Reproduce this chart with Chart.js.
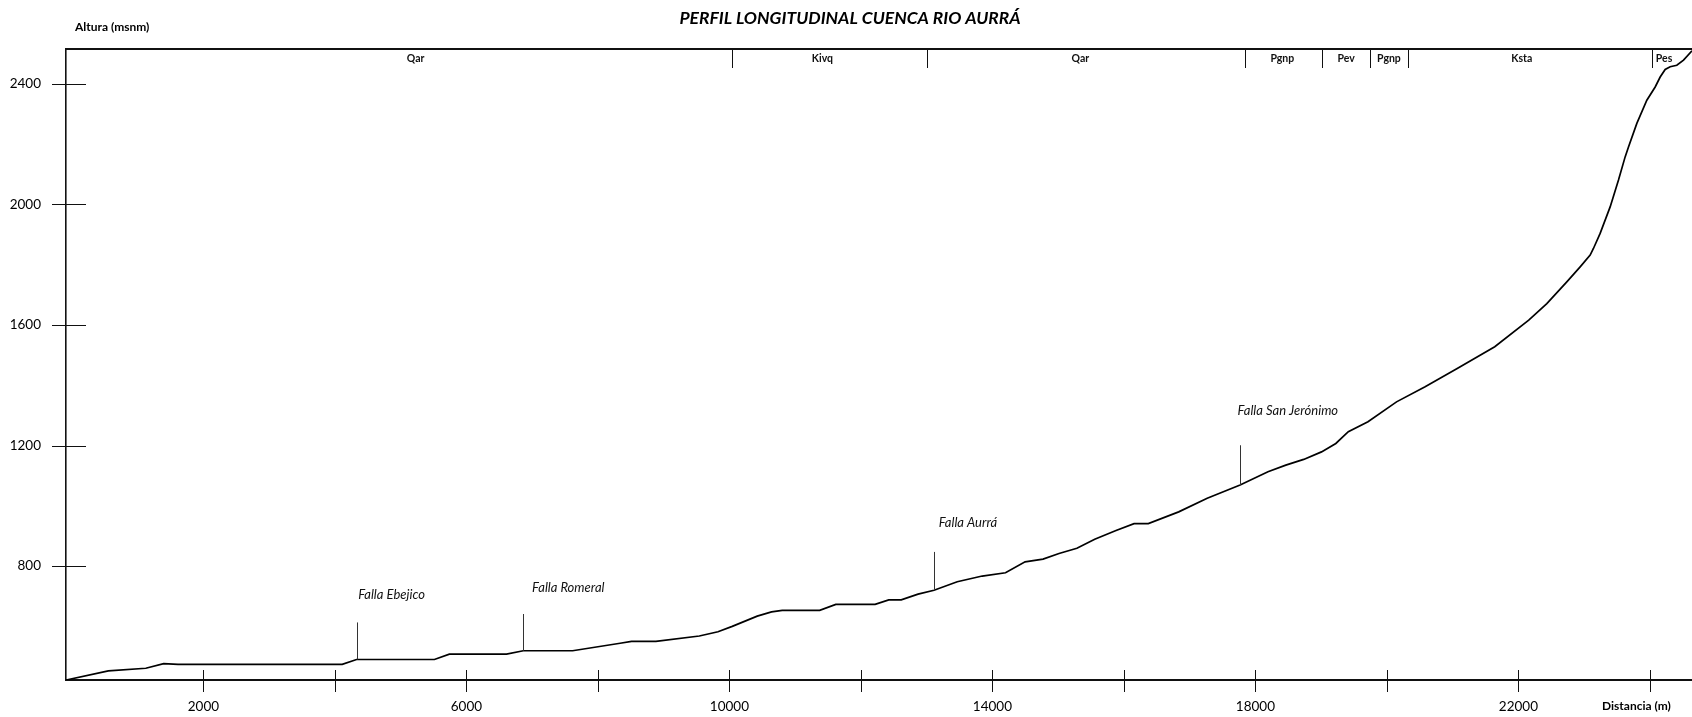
<!DOCTYPE html>
<html>
<head>
<meta charset="utf-8">
<title>Perfil longitudinal cuenca Rio Aurrá</title>
<script src="https://cdn.jsdelivr.net/npm/chart.js@4.4.1/dist/chart.umd.min.js"></script>
<style>
	html, body { margin: 0; padding: 0; background: #fff; }
	#wrap { width: 1692px; height: 717px; }
</style>
</head>
<body>
<div id="wrap"><canvas id="ChartCanvas" width="1692" height="717"></canvas></div>
<script>
// perfil del cauce: distancia (m) y altura (msnm)
const distancia = [-90, 554, 1124, 1396, 1614, 4111, 4329, 5513, 5741, 6610, 6865, 7615, 8338, 8511, 8882,
	9542, 9826, 10043, 10423, 10641, 10803, 11373, 11618, 12216, 12423, 12613, 12869, 13112, 13465, 13845,
	14199, 14497, 14770, 15013, 15285, 15556, 15880, 16154, 16371, 16833, 17267, 17767, 18191, 18462, 18734,
	19005, 19223, 19413, 19712, 20146, 20581, 21069, 21640, 22157, 22432, 22736, 22939, 23091, 23141, 23243,
	23395, 23522, 23623, 23674, 23801, 23953, 24080, 24156, 24232, 24308, 24409, 24511, 24640];
const altura = [422, 452, 461, 476, 474, 474, 490, 490, 508, 508, 519, 519, 544, 550, 550,
	568, 582, 600, 634, 648, 653, 653, 673, 673, 688, 688, 707, 720, 748, 767,
	778, 814, 823, 842, 859, 889, 918, 941, 941, 980, 1025, 1069, 1113, 1135, 1154,
	1179, 1207, 1246, 1279, 1345, 1395, 1456, 1528, 1616, 1671, 1743, 1793, 1832, 1854, 1904,
	1992, 2081, 2158, 2191, 2269, 2346, 2390, 2423, 2448, 2457, 2462, 2479, 2510];

// marcas de los ejes
const marcasX = [2000, 4000, 6000, 8000, 10000, 12000, 14000, 16000, 18000, 20000, 22000, 24000];
const etiquetasX = [2000, 6000, 10000, 14000, 18000, 22000];
const marcasY = [800, 1200, 1600, 2000, 2400];

// unidades geologicas de la franja superior
const unidades = ['Qar', 'Kivq', 'Qar', 'Pgnp', 'Pev', 'Pgnp', 'Ksta', 'Pes'];
const unidadCentro = [5227, 11414, 15337, 18410, 19381, 20031, 22052, 24215];
const limitesUnidad = [10035, 13007, 17837, 19008, 19749, 20318, 24032];

// fallas: posicion, altura del cauce, extremo superior de la marca, texto
const fallas = ['Falla Ebejico', 'Falla Romeral', 'Falla Aurrá', 'Falla San Jerónimo'];
const fallaX = [4329, 6865, 13112, 17767];
const fallaBase = [490, 519, 720, 1069];
const fallaTope = [613, 641, 847, 1201];
const fallaTextoX = [4353, 6999, 13183, 17729];
const fallaTextoY = [704, 728, 944, 1314];

const xMin = -90, xMax = 24640, yMin = 422, yMax = 2516;

const puntos = distancia.map(function (d, i) { return { x: d, y: altura[i] }; });

const decoracion = {
	id: 'decoracion',
	afterDraw: function (chart) {
		const ctx = chart.ctx;
		const a = chart.chartArea;
		const xs = chart.scales.x;
		const ys = chart.scales.y;
		ctx.save();
		ctx.strokeStyle = '#111';
		ctx.fillStyle = '#111';

		// borde superior
		ctx.lineWidth = 2;
		ctx.beginPath();
		ctx.moveTo(a.left, a.top);
		ctx.lineTo(a.right, a.top);
		ctx.stroke();

		// divisiones de unidades
		ctx.lineWidth = 1;
		limitesUnidad.forEach(function (v) {
			const px = Math.round(xs.getPixelForValue(v)) + 0.5;
			ctx.beginPath();
			ctx.moveTo(px, a.top);
			ctx.lineTo(px, a.top + 19);
			ctx.stroke();
		});
		ctx.font = 'bold 10.5px Lato';
		ctx.textAlign = 'center';
		ctx.textBaseline = 'middle';
		unidades.forEach(function (u, i) {
			ctx.fillText(u, xs.getPixelForValue(unidadCentro[i]), a.top + 10);
		});

		// marcas del eje x (cruzan el eje)
		ctx.lineWidth = 1;
		marcasX.forEach(function (v) {
			const px = Math.round(xs.getPixelForValue(v)) + 0.5;
			ctx.beginPath();
			ctx.moveTo(px, a.bottom - 10);
			ctx.lineTo(px, a.bottom + 12);
			ctx.stroke();
		});
		// marcas del eje y
		marcasY.forEach(function (v) {
			const py = Math.round(ys.getPixelForValue(v)) + 0.5;
			ctx.beginPath();
			ctx.moveTo(a.left - 14, py);
			ctx.lineTo(a.left + 20, py);
			ctx.stroke();
		});

		// fallas
		ctx.strokeStyle = '#333';
		ctx.lineWidth = 1;
		ctx.font = 'italic 13px Lato';
		ctx.textAlign = 'left';
		fallas.forEach(function (f, i) {
			const px = Math.round(xs.getPixelForValue(fallaX[i])) + 0.5;
			ctx.beginPath();
			ctx.moveTo(px, ys.getPixelForValue(fallaBase[i]));
			ctx.lineTo(px, ys.getPixelForValue(fallaTope[i]));
			ctx.stroke();
			ctx.fillText(f, xs.getPixelForValue(fallaTextoX[i]), ys.getPixelForValue(fallaTextoY[i]));
		});

		// titulos
		ctx.fillStyle = '#000';
		ctx.font = 'bold italic 17.5px Lato';
		ctx.textAlign = 'center';
		ctx.fillText('PERFIL LONGITUDINAL CUENCA RIO AURRÁ', 850, 18);
		ctx.font = 'bold 12px Lato';
		ctx.textAlign = 'left';
		ctx.fillText('Altura (msnm)', 75, 27);
		ctx.fillText('Distancia (m)', 1602, 706);
		ctx.restore();
	}
};

var ctx = document.getElementById('ChartCanvas').getContext('2d');
var chart = new Chart(ctx, {
	type: 'scatter',
	data: {
		datasets: [{
			label: 'Perfil',
			data: puntos,
			showLine: true,
			borderColor: '#000',
			borderWidth: 1.7,
			pointRadius: 0,
			tension: 0,
			fill: false
		}]
	},
	options: {
		responsive: false,
		animation: false,
		layout: { padding: { top: 49, left: 0, right: 0, bottom: 0 } },
		plugins: {
			legend: { display: false },
			tooltip: { enabled: false },
			title: { display: false }
		},
		scales: {
			x: {
				type: 'linear',
				min: xMin,
				max: xMax,
				afterFit: function (s) { s.height = 37; },
				afterBuildTicks: function (s) {
					s.ticks = etiquetasX.map(function (v) { return { value: v }; });
				},
				border: { display: true, color: '#111', width: 2 },
				grid: { display: false, drawTicks: false },
				ticks: {
					autoSkip: false,
					maxRotation: 0,
					padding: 19,
					color: '#000',
					font: { family: 'Lato', size: 13.5 },
					callback: function (v) { return String(v); }
				}
			},
			y: {
				type: 'linear',
				min: yMin,
				max: yMax,
				afterFit: function (s) { s.width = 66; },
				afterBuildTicks: function (s) {
					s.ticks = marcasY.map(function (v) { return { value: v }; });
				},
				border: { display: true, color: '#111', width: 1.6 },
				grid: { display: false, drawTicks: false },
				ticks: {
					autoSkip: false,
					padding: 25,
					color: '#000',
					font: { family: 'Lato', size: 13.5 },
					callback: function (v) { return String(v); }
				}
			}
		}
	},
	plugins: [decoracion]
});
</script>
</body>
</html>
